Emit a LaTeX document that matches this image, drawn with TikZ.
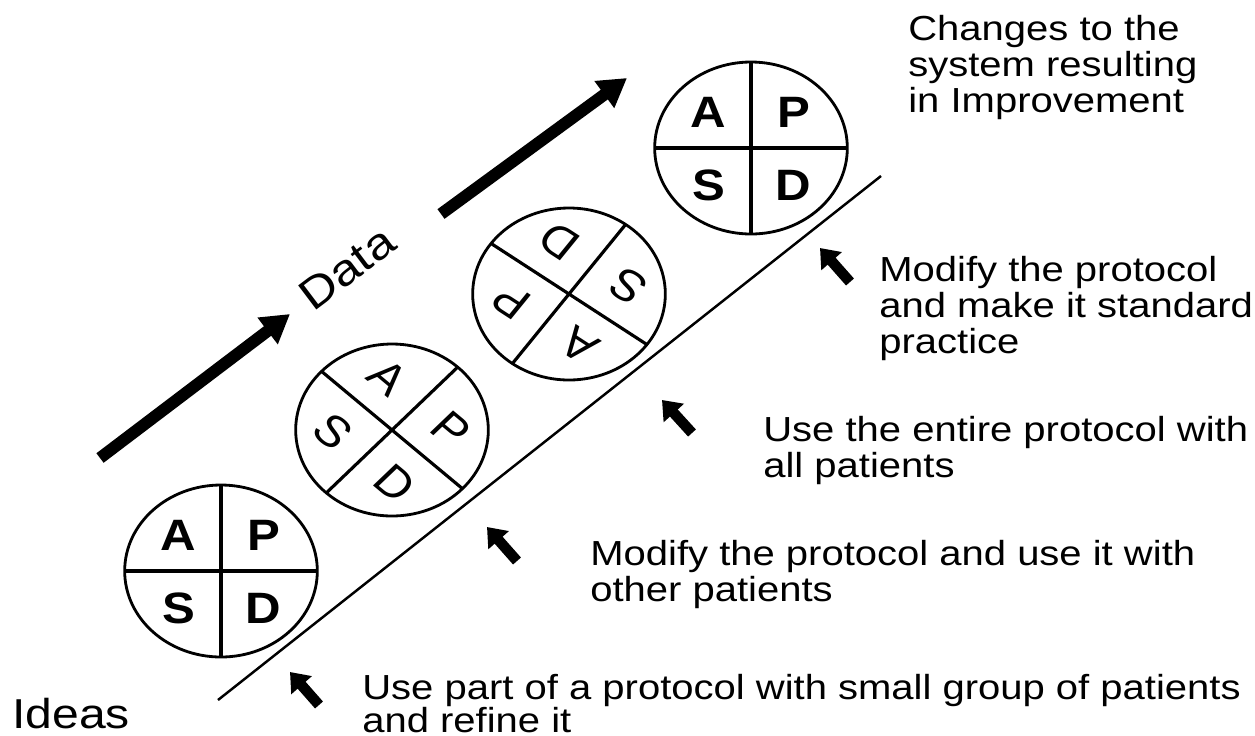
\documentclass[tikz,border=0pt]{standalone}
\usepackage{fontspec}
\setmainfont{Liberation Sans}[FakeStretch=1.15]
\newfontfamily\letterfont{Liberation Sans}
\usepackage{tikz}
\usetikzlibrary{arrows.meta}

\begin{document}
\begin{tikzpicture}[x=0.02cm,y=-0.02cm,
  note/.style={anchor=north west,inner sep=0pt,align=left,
    font=\fontsize{19.8}{20.4}\selectfont},
  bigarrow/.style={line width=6.8pt,-{Triangle[length=16pt,width=18pt]}},
  smallarrow/.style={line width=6pt,-{Triangle[length=10pt,width=15pt]}},
  letter/.style={inner sep=0pt,transform shape}]
  \useasboundingbox (0,0) rectangle (1255,735);

  % PDSA cycles climbing the ramp
  \foreach \cx/\cy/\rot/\wt [count=\i] in
    {221/571/0/\bfseries,392/430/-43/\mdseries,569/294/144/\mdseries,751/148/0/\bfseries}{
    \begin{scope}[shift={(\cx,\cy)},xscale=1.12,rotate=\rot,
        every node/.append style={letter,font=\letterfont\fontsize{25}{25}\selectfont\wt}]
      \draw[line width=1.6pt] (0,0) circle (86);
      \draw[line width=1.8pt] (-86,0) -- (86,0) (0,-86) -- (0,86);
      \node (cyc\i-a) at (-38,-36) {A};
      \node (cyc\i-p) at (38,-36) {P};
      \node (cyc\i-s) at (-38,37) {S};
      \node (cyc\i-d) at (38,37) {D};
    \end{scope}
  }

  % the ramp
  \draw[line width=1.4pt] (218,700) -- (881,176);

  % Data arrows
  \draw[bigarrow] (100,458) -- (290,314);
  \node[rotate=37,inner sep=0pt,font=\fontsize{25}{25}\selectfont] (data) at (347,268) {Data};
  \draw[bigarrow] (441,214) -- (627,78);

  % small arrows pointing at the ramp
  \draw[smallarrow] (319,705) -- (290,672);
  \draw[smallarrow] (517,561) -- (487,527);
  \draw[smallarrow] (692,433) -- (662,400);
  \draw[smallarrow] (850,282) -- (820,248);

  % notes
  \node[note,font=\fontsize{23.8}{25}\selectfont] (ideas) at (12,698) {Ideas};
  \node[note,font=\fontsize{19.8}{18.8}\selectfont] (step1) at (362,674) {Use part of a protocol with small group of patients\\and refine it};
  \node[note] (step2) at (590,540) {Modify the protocol and use it with\\other patients};
  \node[note] (step3) at (763,416) {Use the entire protocol with\\all patients};
  \node[note] (step4) at (879,256) {Modify the protocol\\and make it standard\\practice};
  \node[note] (result) at (908,15) {Changes to the\\system resulting\\in Improvement};
\end{tikzpicture}
\end{document}
